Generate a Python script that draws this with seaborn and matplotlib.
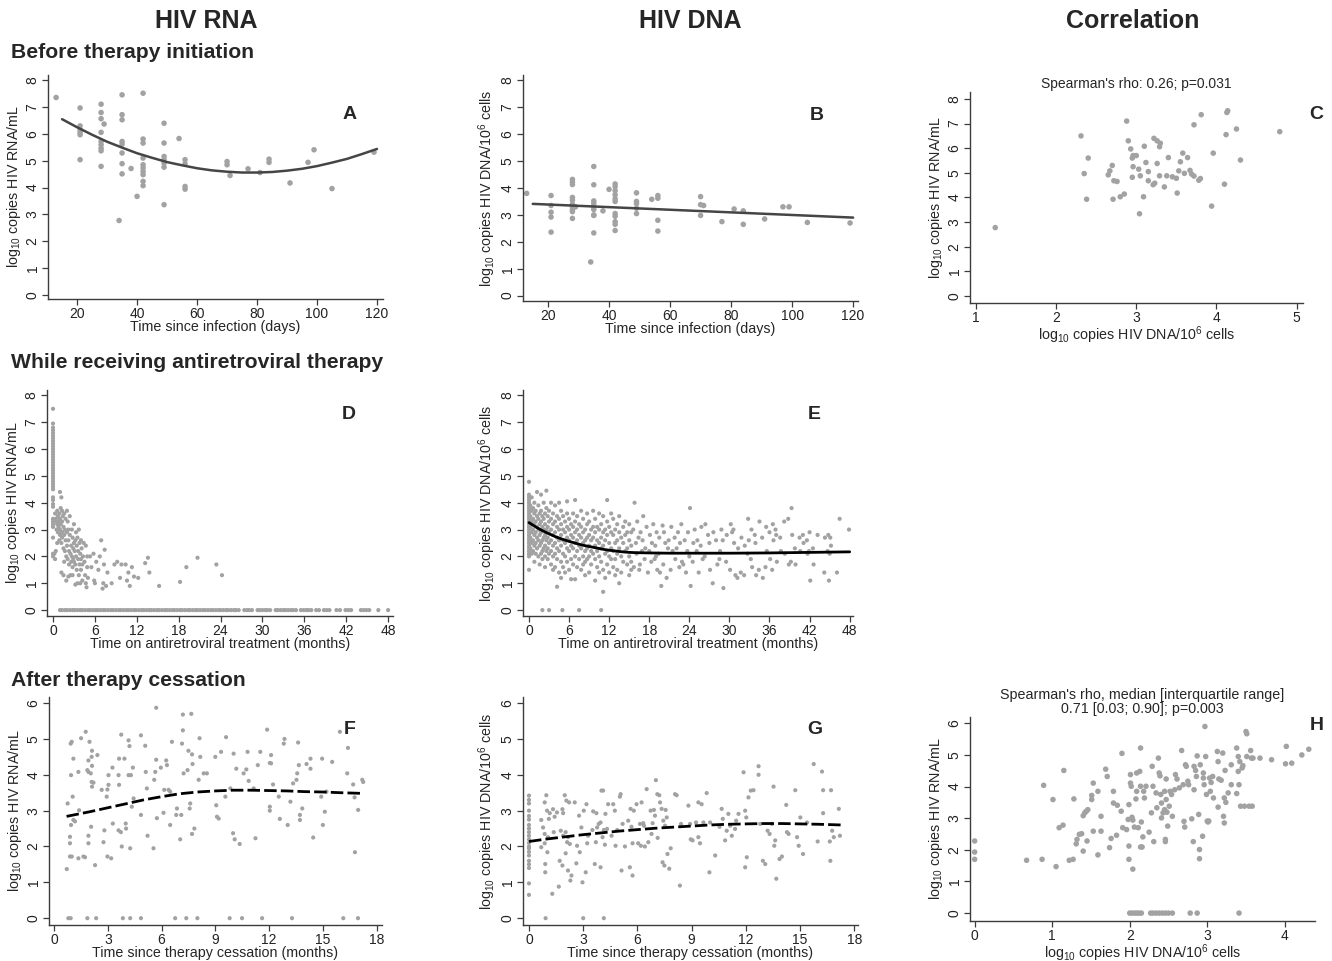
"""HIV RNA / HIV DNA before, during and after therapy (8 panels)."""

import matplotlib
matplotlib.use("Agg")
import matplotlib.pyplot as plt
import seaborn as sns

# ---- panel A: RNA before therapy (days, log10 RNA)
a_points = [
    (13, 7.36),
    (21, 6.97), (21, 6.3), (21, 6.16), (21, 6.06), (21, 5.97), (21, 5.04),
    (28, 7.11), (28, 6.8), (28, 6.57), (28, 6.06), (28, 5.72), (28, 5.6),
    (28, 5.47), (28, 5.37), (28, 4.79), (29, 6.37), (34, 2.77),
    (35, 7.46), (35, 6.72), (35, 6.53), (35, 5.72), (35, 5.62), (35, 5.29),
    (35, 4.89), (35, 4.51), (38, 4.71), (40, 3.67),
    (42, 7.52), (42, 5.81), (42, 5.66), (42, 5.1), (42, 4.85), (42, 4.73),
    (42, 4.6), (42, 4.48), (42, 4.23), (42, 4.07),
    (49, 6.4), (49, 5.66), (49, 5.16), (49, 5.04), (49, 4.91), (49, 4.76), (49, 3.36),
    (54, 5.83), (56, 5.04), (56, 4.89), (56, 4.04), (56, 3.94),
    (70, 4.97), (70, 4.85), (71, 4.45), (77, 4.7), (81, 4.56), (84, 5.06), (84, 4.94),
    (91, 4.17), (97, 4.94), (99, 5.41), (105, 3.96), (119, 5.32),
]
a_fit_day = [15, 20, 25, 30, 35, 40, 45, 50, 55, 60, 65, 70, 75, 80, 85, 90,
             95, 100, 105, 110, 115, 120]
a_fit = [6.55, 6.25, 5.97, 5.71, 5.49, 5.28, 5.11, 4.95, 4.83, 4.72, 4.64, 4.59,
         4.56, 4.56, 4.58, 4.63, 4.70, 4.80, 4.93, 5.07, 5.25, 5.44]

# ---- panel B: DNA before therapy
b_points = [
    (13, 3.8),
    (21, 3.72), (21, 3.35), (21, 3.1), (21, 2.92), (21, 2.36),
    (28, 4.32), (28, 4.22), (28, 4.13), (28, 3.65), (28, 3.55), (28, 3.4),
    (28, 3.3), (28, 3.2), (28, 3.12), (28, 2.87), (29, 3.3), (34, 1.25),
    (35, 4.8), (35, 4.12), (35, 3.52), (35, 3.42), (35, 3.3), (35, 3.2),
    (35, 3.0), (35, 2.98), (35, 2.33), (38, 3.15), (40, 3.95),
    (42, 4.15), (42, 4.05), (42, 3.9), (42, 3.75), (42, 3.6), (42, 3.5),
    (42, 3.05), (42, 2.95), (42, 2.75), (42, 2.65), (42, 2.42),
    (49, 3.82), (49, 3.5), (49, 3.42), (49, 3.25), (49, 3.05),
    (54, 3.58), (56, 3.72), (56, 3.62), (56, 2.8), (56, 2.4),
    (70, 3.68), (70, 3.38), (70, 2.98), (71, 3.35), (77, 2.75), (81, 3.22),
    (84, 3.15), (84, 2.65), (91, 2.85), (97, 3.3), (99, 3.3), (105, 2.72), (119, 2.7),
]
b_fit_day = [15, 120]
b_fit = [3.41, 2.9]

# ---- panel C: DNA vs RNA before therapy
c_points = [
    (1.24, 2.78), (2.31, 6.5), (2.35, 4.97), (2.4, 5.6), (2.38, 3.93),
    (2.7, 5.3), (2.65, 4.92), (2.67, 5.08), (2.72, 4.68), (2.76, 4.65),
    (2.71, 3.93), (2.8, 4.03), (2.85, 4.14), (2.88, 7.1), (2.9, 6.3),
    (2.93, 5.97), (2.95, 5.6), (2.96, 5.7), (2.96, 5.25), (2.95, 4.82),
    (3.0, 5.7), (3.03, 5.15), (3.05, 4.88), (3.04, 3.34), (3.09, 4.03),
    (3.1, 6.08), (3.12, 5.42), (3.15, 5.05), (3.15, 4.68), (3.21, 4.52),
    (3.22, 6.4), (3.26, 6.3), (3.26, 5.38), (3.23, 4.58), (3.29, 6.06),
    (3.3, 6.2), (3.29, 4.88), (3.35, 4.43), (3.38, 4.88), (3.4, 5.62),
    (3.45, 4.84), (3.5, 4.78), (3.51, 4.18), (3.53, 5.08), (3.55, 5.45),
    (3.58, 5.8), (3.6, 4.98), (3.64, 5.62), (3.67, 5.1), (3.69, 4.95),
    (3.72, 4.87), (3.72, 6.95), (3.78, 4.7), (3.8, 4.77), (3.81, 7.36),
    (3.94, 3.65), (3.96, 5.8), (4.1, 4.54), (4.12, 6.55), (4.13, 7.45),
    (4.14, 7.52), (4.25, 6.78), (4.3, 5.52), (4.79, 6.67),
]

# ---- panel D: RNA on treatment (months)
d_points = (
    [(0, v) for v in (7.5, 6.95, 6.8, 6.7, 6.6, 6.5, 6.4, 6.3, 6.2, 6.1, 6.0,
                      5.9, 5.8, 5.7, 5.6, 5.5, 5.4, 5.3, 5.2, 5.1, 5.0, 4.9,
                      4.8, 4.7, 4.6, 4.5, 4.2, 4.1, 3.95, 3.85, 3.4, 3.3, 3.2,
                      3.1, 2.7, 2.1, 2.0)]
    + [(0.3, 3.6), (0.4, 3.4), (0.5, 3.3), (0.5, 3.0), (0.6, 3.7), (0.6, 3.2),
       (0.7, 3.5), (0.7, 2.9), (0.8, 3.3), (0.8, 3.1), (0.9, 3.6), (0.9, 2.6),
       (1.0, 4.4), (1.0, 3.4), (1.0, 3.0), (1.0, 2.8), (0.4, 2.2), (0.3, 1.9),
       (0.6, 2.5), (0.2, 2.1),
       (1.1, 3.8), (1.1, 3.2), (1.2, 2.9), (1.2, 2.5), (1.2, 4.2), (1.3, 3.7),
       (1.3, 3.3), (1.3, 2.7), (1.4, 3.5), (1.4, 2.9), (1.5, 3.1), (1.5, 2.3),
       (1.5, 1.3), (1.6, 3.6), (1.6, 2.8), (1.7, 3.0), (1.7, 2.2), (1.8, 2.6),
       (1.8, 3.4), (1.9, 2.0), (1.9, 1.1), (2.0, 3.7), (2.0, 2.9), (2.0, 2.4),
       (1.6, 1.8), (1.2, 1.4),
       (2.1, 3.3), (2.1, 1.9), (2.2, 2.6), (2.2, 3.0), (2.3, 2.2), (2.3, 1.7),
       (2.4, 2.8), (2.4, 3.5), (2.5, 2.1), (2.5, 1.3), (2.6, 2.4), (2.6, 1.8),
       (2.7, 3.0), (2.7, 2.0), (2.8, 2.7), (2.8, 1.6), (2.9, 2.3), (2.9, 1.9),
       (3.0, 3.2), (3.0, 2.5), (3.0, 1.8), (2.2, 1.25), (2.8, 1.3),
       (3.1, 2.2), (3.2, 2.6), (3.2, 1.7), (3.3, 2.9), (3.3, 2.0), (3.4, 2.4),
       (3.4, 1.5), (3.5, 1.0), (3.5, 2.7), (3.6, 1.9), (3.6, 2.2), (3.7, 3.0),
       (3.7, 1.3), (3.8, 2.5), (3.8, 1.7), (3.9, 2.1), (3.9, 1.0), (4.0, 2.6),
       (4.0, 1.9), (4.0, 1.5), (3.2, 0.95),
       (4.1, 2.3), (4.2, 1.7), (4.2, 1.1), (4.3, 2.0), (4.4, 2.5), (4.5, 1.8),
       (4.6, 1.3), (4.7, 2.4), (4.7, 1.0), (4.8, 0.85), (4.9, 2.0), (4.9, 1.6),
       (5.0, 1.2),
       (5.3, 2.0), (5.5, 1.6), (5.8, 2.1), (5.9, 1.1), (6.0, 1.0), (6.2, 1.8),
       (6.5, 1.5), (6.7, 2.0), (6.9, 2.6), (7.1, 0.8), (7.2, 1.0), (7.3, 1.7),
       (7.4, 2.25), (7.6, 0.9), (7.8, 1.4),
       (8.4, 1.0), (8.8, 1.7), (9.2, 1.8), (9.6, 1.2), (9.8, 1.7), (10.4, 1.7),
       (10.6, 1.1), (10.8, 1.4), (11.0, 0.9), (11.3, 1.6), (11.6, 1.25),
       (12.2, 1.2), (13.2, 1.75), (13.6, 1.95), (13.8, 1.4), (15.2, 0.9),
       (18.2, 1.05), (19.1, 1.6), (20.7, 1.95), (23.4, 1.7), (24.2, 1.3)]
)
d_zero_month = [
    1.0, 1.3, 1.7, 2.0, 2.4, 2.8, 3.1, 3.5, 3.9, 4.2, 4.6, 5.0, 5.3, 5.7, 6.1,
    6.4, 6.8, 7.2, 7.5, 7.9, 8.3, 8.6, 9.0, 9.4, 9.7, 10.1, 10.5, 10.8, 11.2,
    11.6, 11.9, 12.3, 12.7, 13.0, 13.4, 13.8, 14.1, 14.5, 14.9, 15.2, 15.6,
    16.0, 16.3, 16.7, 17.1, 17.4, 17.8, 18.2, 18.5, 18.9, 19.3, 19.6, 20.0,
    20.4, 20.7, 21.1, 21.5, 21.8, 22.2, 22.6, 22.9, 23.3, 23.7, 24.0, 24.4,
    24.8, 25.1, 25.5, 25.9, 26.2, 26.6, 27.4, 27.8, 28.1, 28.5, 29.3, 29.6,
    30.0, 30.4, 30.7, 31.1, 31.9, 32.2, 32.6, 33.0, 33.3, 33.7, 34.1, 34.4,
    34.8, 35.5, 35.9, 36.3, 36.6, 37.0, 37.7, 38.1, 38.8, 39.2, 39.6, 40.6,
    41.1, 41.9, 42.3, 42.7, 44.1, 44.5, 44.9, 45.3, 46.6, 48.0,
]

# ---- panel E: DNA on treatment (months)
e_points = (
    [(0, v) for v in (4.78, 4.3, 4.2, 4.1, 4.0, 3.9, 3.8, 3.7, 3.6, 3.5, 3.4,
                      3.3, 3.2, 3.1, 3.0, 2.9, 2.8, 2.7, 2.6, 2.5, 2.4, 2.3,
                      2.2, 2.1, 2.0, 1.5)]
    + [(0.2, v) for v in (3.9, 3.5, 3.1, 2.7, 2.3)]
    + [(0.4, v) for v in (4.2, 3.7, 3.3, 2.9, 2.5, 2.1)]
    + [(0.6, v) for v in (3.8, 3.4, 3.0, 2.6, 2.2)]
    + [(0.8, v) for v in (4.0, 3.6, 3.2, 2.8, 2.4, 1.8)]
    + [(1.0, v) for v in (3.7, 3.3, 2.9, 2.5, 2.1)]
    + [(1.2, v) for v in (4.4, 3.5, 3.1, 2.7, 2.3)]
    + [(1.4, v) for v in (3.9, 3.4, 3.0, 2.6, 2.0)]
    + [(1.6, v) for v in (3.6, 3.2, 2.8, 2.4, 1.7)]
    + [(1.8, v) for v in (4.3, 3.7, 3.3, 2.9, 2.5, 2.1)]
    + [(2.0, v) for v in (3.5, 3.1, 2.6, 2.2, 1.9, 0)]
    + [(2.2, v) for v in (4.0, 3.4, 3.0, 2.7, 2.3)]
    + [(2.4, v) for v in (3.6, 3.2, 2.8, 2.4, 2.0, 1.6)]
    + [(2.6, v) for v in (4.45, 3.8, 3.0, 2.6, 2.2)]
    + [(2.8, v) for v in (3.5, 3.1, 2.7, 2.3, 1.9)]
    + [(3.0, v) for v in (3.7, 3.3, 2.9, 2.5, 2.1, 0)]
    + [(3.3, v) for v in (4.0, 3.4, 3.0, 2.6, 2.2, 1.7)]
    + [(3.6, v) for v in (3.6, 3.2, 2.8, 2.4, 2.0, 1.5)]
    + [(3.9, v) for v in (3.9, 3.3, 2.9, 2.5, 2.1, 1.6)]
    + [(4.2, v) for v in (3.5, 3.1, 2.7, 2.3, 1.9, 0.87)]
    + [(4.5, v) for v in (4.0, 3.4, 3.0, 2.6, 2.2, 1.4)]
    + [(4.8, v) for v in (3.7, 3.2, 2.8, 2.4, 1.8, 1.2)]
    + [(5.0, 0)]
    + [(5.1, v) for v in (3.5, 3.0, 2.6, 2.1, 1.6)]
    + [(5.4, v) for v in (3.3, 2.9, 2.5, 2.0, 1.4)]
    + [(5.7, v) for v in (4.05, 3.6, 3.1, 2.7, 2.3, 1.8)]
    + [(6.0, v) for v in (3.4, 3.0, 2.6, 2.2, 1.5)]
    + [(6.3, v) for v in (3.2, 2.8, 2.4, 1.9, 1.15)]
    + [(6.6, v) for v in (3.6, 3.1, 2.7, 2.3, 1.7)]
    + [(6.9, v) for v in (4.1, 3.3, 2.9, 2.5, 2.0, 1.15)]
    + [(7.2, v) for v in (3.5, 3.0, 2.6, 2.2, 1.6)]
    + [(7.5, v) for v in (3.2, 2.8, 2.4, 1.9, 0)]
    + [(7.8, v) for v in (3.7, 3.1, 2.7, 2.3, 1.5)]
    + [(8.1, v) for v in (3.4, 2.9, 2.5, 2.0, 1.7)]
    + [(8.4, v) for v in (3.0, 2.6, 2.2, 1.8, 1.3)]
    + [(8.7, v) for v in (3.6, 3.2, 2.7, 2.3, 1.9)]
    + [(9.0, v) for v in (3.3, 2.8, 2.4, 2.0, 1.4)]
    + [(9.3, v) for v in (3.0, 2.6, 2.2, 1.7)]
    + [(9.6, v) for v in (3.7, 3.1, 2.7, 2.1)]
    + [(9.9, v) for v in (3.4, 2.9, 2.4, 1.9, 1.1)]
    + [(10.2, v) for v in (3.1, 2.6, 2.2, 1.6)]
    + [(10.5, v) for v in (3.6, 3.0, 2.5, 2.0, 1.4)]
    + [(10.8, v) for v in (3.2, 2.7, 2.3, 1.8, 0)]
    + [(11.1, v) for v in (3.5, 2.9, 2.4, 1.5, 0.68)]
    + [(11.4, v) for v in (3.0, 2.6, 2.1, 1.2)]
    + [(11.7, v) for v in (4.1, 3.3, 2.8, 2.2, 1.7)]
    + [(12.0, v) for v in (3.1, 2.5, 2.0, 1.4)]
    + [(12.3, v) for v in (3.6, 2.9, 2.3, 1.9)]
    + [(12.6, v) for v in (3.4, 2.8, 2.2, 1.6)]
    + [(12.9, v) for v in (3.0, 2.5, 1.9, 1.3)]
    + [(13.2, v) for v in (3.2, 2.6, 2.1, 1.5)]
    + [(13.5, v) for v in (3.5, 2.9, 2.3, 1.0)]
    + [(13.8, v) for v in (2.7, 2.0, 1.4)]
    + [(14.1, v) for v in (3.1, 2.5, 1.8)]
    + [(14.4, v) for v in (3.3, 2.8, 2.2)]
    + [(14.7, v) for v in (2.9, 2.3, 1.7)]
    + [(15.0, v) for v in (3.2, 2.6, 2.0, 1.3)]
    + [(15.3, v) for v in (2.9, 2.4, 1.8, 1.5)]
    + [(15.8, 4.0), (15.6, 3.0), (16.0, 2.5), (15.7, 1.6),
       (16.2, 3.3), (16.4, 2.7), (16.1, 2.1), (16.5, 1.5),
       (16.7, 2.9), (16.9, 2.2), (16.6, 1.7), (17.1, 3.5), (17.0, 2.6),
       (17.3, 1.9), (17.6, 3.1), (17.4, 2.3), (17.8, 1.4), (18.1, 2.8),
       (18.0, 2.2), (18.3, 1.8), (18.6, 3.2), (18.4, 2.5), (18.8, 1.9),
       (19.1, 2.9), (18.9, 2.4), (19.2, 1.5), (19.0, 2.0), (19.5, 2.7),
       (19.4, 2.1), (19.6, 1.4), (19.8, 0.9), (20.0, 3.15), (20.2, 2.9),
       (20.4, 2.5), (20.1, 1.7), (20.8, 2.3), (20.6, 1.2), (20.9, 2.6),
       (21.3, 3.1), (21.5, 2.2), (21.2, 1.5), (21.8, 2.7), (21.9, 1.9),
       (22.3, 2.9), (22.1, 2.3), (22.5, 1.6), (22.8, 3.2), (22.6, 2.5),
       (22.9, 1.8), (23.3, 2.6), (23.1, 1.7), (23.5, 1.4), (23.8, 2.9),
       (23.7, 2.2), (24.1, 3.8), (24.2, 0.9), (24.0, 2.0), (24.6, 2.5),
       (24.5, 1.8), (24.8, 3.0), (25.2, 2.6), (25.1, 2.2), (25.4, 1.4),
       (25.8, 3.1), (25.7, 2.4), (26.0, 1.9), (26.4, 3.2), (26.3, 2.0),
       (27.0, 2.5), (26.8, 2.8), (27.1, 1.5), (27.5, 1.0), (27.6, 2.9),
       (28.0, 2.6), (28.2, 1.7), (28.6, 2.2), (28.5, 1.9), (28.8, 3.0),
       (29.1, 0.82), (29.0, 2.6), (29.6, 2.8), (29.5, 1.8), (30.2, 3.2),
       (30.4, 2.9), (30.1, 1.5), (30.7, 2.5), (30.9, 1.3), (30.6, 3.0),
       (31.3, 2.3), (31.2, 1.2), (31.8, 2.7), (31.7, 1.4), (32.3, 2.4),
       (32.2, 1.3), (32.8, 3.4), (32.9, 2.6), (32.7, 2.1), (33.3, 3.0),
       (33.2, 1.9), (33.4, 1.6), (33.9, 2.5), (34.0, 1.3), (33.8, 2.8),
       (34.5, 3.3), (34.4, 1.5), (34.9, 2.7), (35.0, 1.2), (35.5, 3.1),
       (35.6, 2.2), (35.4, 1.6), (36.0, 2.9), (36.1, 1.9), (36.5, 3.2),
       (36.6, 2.6), (36.4, 1.5), (37.0, 2.8), (37.1, 1.8), (36.9, 3.0),
       (37.6, 2.7), (37.7, 2.2), (38.2, 3.3), (38.3, 2.1), (38.8, 3.4),
       (38.9, 1.7), (39.3, 3.8), (39.4, 2.8), (39.2, 1.8), (39.8, 2.3),
       (39.9, 1.7), (40.5, 2.7), (40.6, 2.2), (41.0, 2.8), (41.1, 2.5),
       (41.6, 2.6), (41.7, 2.1), (42.0, 2.9), (42.1, 1.1), (41.9, 2.2),
       (42.5, 2.3), (42.6, 1.7), (43.2, 2.8), (44.2, 1.4), (44.3, 2.7),
       (44.8, 2.8), (44.9, 1.1), (44.7, 2.2), (45.1, 2.7), (45.2, 2.4),
       (45.0, 2.1), (46.1, 1.4), (46.5, 3.4), (47.9, 3.0)]
)
e_fit_month = [0, 1, 2, 3, 4, 5, 6, 7, 8, 9, 10, 11, 12, 13, 14, 15, 16, 18,
               21, 24, 30, 36, 42, 48]
e_fit = [3.26, 3.1, 2.96, 2.84, 2.73, 2.64, 2.56, 2.49, 2.42, 2.37, 2.32, 2.27,
         2.23, 2.2, 2.17, 2.15, 2.14, 2.13, 2.12, 2.12, 2.12, 2.13, 2.15, 2.17]

# ---- panel F: RNA after cessation (months)
f_points = [
    (0.71, 1.37), (0.76, 3.2), (0.8, 0), (0.93, 0), (0.89, 2.27), (0.89, 2.09),
    (0.89, 1.72), (0.99, 1.72), (0.95, 2.6), (0.95, 3.99), (0.99, 4.92),
    (0.93, 4.87), (1.04, 3.39), (1.08, 2.74), (1.17, 2.7), (1.08, 4.45),
    (1.36, 4.08), (1.36, 1.67), (1.4, 3.01), (1.51, 5.02), (1.64, 1.72),
    (1.73, 1.7), (1.77, 5.2), (1.86, 0), (1.86, 4.13), (1.92, 4.08),
    (1.92, 4.4), (1.98, 4.92), (1.92, 2.3), (1.92, 2.09), (2.05, 4.04),
    (2.1, 4.5), (2.12, 4.67), (2.12, 4.25), (2.07, 2.55), (2.12, 3.67),
    (2.1, 3.8), (2.2, 3.78), (2.29, 1.48), (2.35, 0), (2.42, 4.55), (2.66, 3.58),
    (2.76, 2.12), (2.81, 2.45), (2.94, 3.39), (2.98, 3.59), (2.98, 1.72),
    (3.04, 3.72), (3.04, 3.99), (3.19, 1.67), (3.26, 4.2), (3.28, 2.64),
    (3.6, 3.99), (3.6, 2.45), (3.63, 3.72), (3.63, 4.45), (3.73, 2.4),
    (3.75, 5.12), (3.78, 2.0), (3.84, 0), (3.93, 4.45), (4.0, 2.64),
    (4.02, 2.5), (4.16, 4.96), (4.16, 3.99), (4.21, 4.8), (4.25, 1.95),
    (4.25, 0), (4.29, 3.99), (4.34, 3.11), (4.4, 4.2), (4.44, 3.34),
    (4.85, 0), (4.85, 2.88), (4.85, 5.1), (5.09, 4.81), (5.12, 4.08),
    (5.18, 3.62), (5.22, 2.3), (5.55, 1.95), (5.59, 3.86), (5.65, 4.08),
    (5.7, 4.42), (5.7, 5.87), (5.74, 2.79), (5.96, 4.2), (6.11, 2.94),
    (6.15, 3.58), (6.26, 4.4), (6.3, 4.27), (6.39, 3.58), (6.48, 3.53),
    (6.48, 2.6), (6.58, 4.92), (6.76, 0), (6.82, 2.88), (6.86, 3.06),
    (7.04, 2.2), (7.1, 2.88), (7.14, 4.87), (7.19, 5.24), (7.19, 5.68),
    (7.23, 4.04), (7.38, 0), (7.45, 4.13), (7.5, 4.67), (7.57, 3.06),
    (7.6, 3.2), (7.66, 5.7), (7.7, 4.57), (7.7, 2.35), (7.73, 4.3),
    (7.83, 2.5), (8.0, 0), (8.07, 3.86), (8.12, 5.02), (8.16, 4.5),
    (8.35, 4.04), (8.53, 4.04), (9.0, 4.5), (9.05, 3.15), (9.09, 2.83),
    (9.19, 2.78), (9.32, 4.64), (9.56, 3.39), (9.6, 5.05), (9.8, 0),
    (9.84, 3.62), (9.99, 2.37), (10.02, 4.59), (10.08, 2.2), (10.17, 4.17),
    (10.36, 2.07), (10.49, 0), (10.58, 4.04), (10.73, 4.15), (10.8, 4.64),
    (10.86, 3.83), (11.14, 3.62), (11.24, 2.23), (11.37, 4.27), (11.51, 4.64),
    (11.61, 0), (11.89, 5.26), (12.04, 3.11), (12.04, 3.0), (12.04, 4.33),
    (12.11, 4.55), (12.11, 4.32), (12.22, 3.73), (12.54, 3.39), (12.6, 2.77),
    (12.82, 4.87), (12.86, 5.0), (13.04, 2.6), (13.19, 3.25), (13.28, 0),
    (13.34, 3.76), (13.53, 3.86), (13.57, 4.04), (13.62, 4.9), (13.66, 4.27),
    (13.72, 2.88), (13.72, 2.74), (13.85, 3.06), (14.09, 4.3), (14.31, 4.17),
    (14.31, 4.45), (14.46, 2.25), (14.91, 3.39), (14.96, 4.45), (15.0, 2.6),
    (15.11, 2.97), (15.2, 3.53), (15.52, 4.36), (15.95, 5.2), (16.14, 0),
    (16.36, 4.04), (16.4, 4.75), (16.69, 3.73), (16.77, 3.37), (16.79, 1.84),
    (16.96, 0), (16.97, 3.02), (17.2, 3.86), (17.25, 3.8),
]
f_fit_month = [0.7, 2, 3, 4, 5, 6, 7, 8, 9, 10, 11, 12, 13, 14, 15, 16, 17.3]
f_fit = [2.84, 2.97, 3.08, 3.19, 3.3, 3.39, 3.47, 3.52, 3.55, 3.57, 3.57, 3.56,
         3.55, 3.53, 3.52, 3.5, 3.48]

# ---- panel G: DNA after cessation (months)
g_points = (
    [(0, v) for v in (3.42, 3.3, 3.2, 3.0, 2.85, 2.75, 2.6, 2.5, 2.4, 2.3, 2.2,
                      2.1, 2.0, 1.95, 1.85, 1.75, 1.6, 1.5, 1.4, 0.97, 0.65)]
    + [(0.68, 1.98), (0.68, 2.74), (0.78, 2.53), (0.87, 3.23), (0.87, 2.35),
       (0.87, 2.09), (0.9, 1.51), (0.9, 1.28), (0.92, 0), (0.96, 3.43),
       (1.0, 3.0), (1.02, 1.84), (1.05, 2.26), (1.1, 2.77), (1.15, 2.93),
       (1.29, 0.68), (1.33, 3.04), (1.37, 2.4), (1.42, 2.83), (1.55, 2.95),
       (1.65, 0.88), (1.7, 1.6), (1.76, 2.44), (1.85, 3.04), (1.85, 1.47),
       (1.89, 2.93), (1.89, 2.3), (1.98, 3.43), (2.03, 1.81), (2.03, 2.4),
       (2.07, 3.28), (2.11, 2.12), (2.16, 2.26), (2.16, 1.33), (2.22, 3.23),
       (2.26, 2.07), (2.29, 1.05), (2.35, 1.19), (2.53, 3.23), (2.62, 1.53),
       (2.66, 2.02), (2.77, 2.86), (2.81, 1.84), (2.9, 2.53), (2.96, 1.0),
       (3.0, 0), (3.03, 3.0), (3.14, 1.28), (3.18, 3.18), (3.22, 2.09),
       (3.27, 2.3), (3.51, 2.46), (3.55, 2.98), (3.64, 1.51), (3.7, 2.12),
       (3.73, 2.93), (3.77, 2.53), (3.86, 2.63), (3.96, 2.67), (3.96, 1.42),
       (4.01, 3.56), (4.07, 2.26), (4.1, 3.56), (4.14, 0), (4.14, 2.46),
       (4.2, 2.05), (4.23, 2.91), (4.32, 2.49), (4.38, 3.18), (4.57, 2.3),
       (4.66, 3.18), (4.75, 3.0), (4.79, 2.02), (4.88, 2.46), (5.03, 3.39),
       (5.07, 3.46), (5.12, 1.33), (5.18, 2.63), (5.31, 2.0), (5.49, 2.72),
       (5.58, 1.42), (5.62, 3.05), (5.67, 2.55), (5.73, 2.09), (5.73, 1.19),
       (5.8, 3.0), (5.95, 3.18), (6.04, 2.09), (6.14, 2.63), (6.19, 2.02),
       (6.23, 3.23), (6.32, 2.65), (6.36, 2.58), (6.41, 2.0), (6.51, 3.6),
       (6.6, 2.12), (6.73, 3.0), (6.78, 2.35), (6.84, 2.65), (6.91, 3.02),
       (6.97, 2.86), (7.02, 3.85), (7.1, 3.46), (7.12, 2.24), (7.21, 3.43),
       (7.25, 3.23), (7.34, 3.05), (7.39, 1.56), (7.43, 2.72), (7.49, 1.47),
       (7.53, 2.58), (7.56, 3.02), (7.62, 2.81), (7.66, 1.79), (7.76, 1.38),
       (7.84, 1.95), (8.08, 3.46), (8.17, 3.43), (8.35, 0.91), (8.41, 2.63),
       (8.82, 3.14), (8.91, 2.63), (8.95, 2.2), (9.05, 2.17), (9.24, 2.67),
       (9.37, 3.23), (9.37, 2.26), (9.46, 2.09), (9.55, 3.18), (9.65, 2.67),
       (9.83, 3.49), (9.98, 1.28), (10.02, 2.67), (10.3, 1.75), (10.54, 2.55),
       (10.66, 3.05), (10.72, 2.77), (10.85, 2.17), (10.94, 2.44), (11.03, 2.91),
       (11.13, 2.58), (11.22, 2.3), (11.4, 2.49), (11.46, 2.72), (11.59, 2.91),
       (11.87, 4.07), (11.96, 1.42), (11.96, 3.0), (12.02, 2.81), (12.05, 1.7),
       (12.14, 3.37), (12.27, 3.56), (12.42, 3.57), (12.7, 4.24), (12.7, 4.0),
       (12.79, 2.63), (12.94, 1.6), (13.07, 1.51), (13.2, 2.44), (13.31, 2.35),
       (13.44, 2.63), (13.53, 3.67), (13.57, 2.02), (13.62, 2.17), (13.68, 1.1),
       (13.86, 1.65), (13.99, 1.72), (14.23, 3.16), (14.27, 2.4), (14.36, 2.35),
       (14.73, 3.57), (14.83, 2.26), (14.92, 2.02), (15.01, 2.81), (15.16, 1.79),
       (15.38, 2.67), (15.75, 4.3), (15.97, 2.14), (16.21, 4.09), (16.27, 3.57),
       (16.27, 2.93), (16.64, 2.14), (16.67, 1.6), (16.71, 3.57), (16.77, 2.44),
       (16.86, 2.26), (17.14, 3.05), (17.2, 2.3)]
)
g_fit_month = [0, 1, 2, 3, 4, 5, 6, 7, 8, 9, 10, 11, 12, 13, 14, 15, 16, 17.3]
g_fit = [2.14, 2.21, 2.27, 2.33, 2.38, 2.43, 2.47, 2.51, 2.54, 2.57, 2.6, 2.62,
         2.63, 2.64, 2.64, 2.63, 2.62, 2.6]

# ---- panel H: DNA vs RNA after cessation
h_points = [
    (0, 2.28), (0, 1.93), (0, 1.7), (0.67, 1.67), (0.87, 1.7), (0.89, 4.04),
    (1.01, 3.59), (1.05, 1.47), (1.09, 2.7), (1.14, 2.78), (1.15, 4.51),
    (1.22, 1.67), (1.27, 1.7), (1.28, 3.61), (1.31, 2.19), (1.32, 2.33),
    (1.35, 2.49), (1.38, 2.51), (1.4, 1.96), (1.4, 3.08), (1.42, 3.17),
    (1.44, 3.22), (1.45, 2.28), (1.46, 3.27), (1.51, 3.72), (1.51, 3.59),
    (1.53, 2.59), (1.53, 4.11), (1.59, 1.84), (1.59, 3.85), (1.63, 2.59),
    (1.63, 3.06), (1.69, 4.55), (1.71, 4.32), (1.74, 2.07), (1.76, 2.36),
    (1.79, 3.85), (1.79, 3.48), (1.83, 2.46), (1.84, 3.41), (1.9, 5.05),
    (1.89, 3.22), (1.91, 2.7), (1.96, 2.64), (1.98, 2.96), (1.99, 3.43),
    (1.99, 1.7), (1.99, 2.12), (2.01, 4.38), (2.01, 4.11), (2.02, 4.01),
    (2.03, 3.03), (2.04, 1.39), (2.04, 2.94), (2.06, 2.72), (2.08, 3.61),
    (2.09, 4.43), (2.09, 3.85), (2.11, 2.7), (2.13, 4.48), (2.14, 5.22),
    (2.14, 4.01), (2.14, 2.09), (2.15, 2.88), (2.16, 2.09), (2.17, 2.41),
    (2.18, 3.85), (2.19, 3.64), (2.21, 4.01), (2.25, 2.56), (2.28, 3.17),
    (2.29, 4.64), (2.3, 4.01), (2.31, 2.26), (2.34, 3.8), (2.35, 3.33),
    (2.37, 4.9), (2.38, 4.43), (2.39, 4.34), (2.4, 3.75), (2.41, 3.48),
    (2.41, 3.01), (2.43, 3.17), (2.45, 3.27), (2.45, 3.85), (2.46, 2.33),
    (2.46, 2.26), (2.47, 4.24), (2.47, 3.59), (2.48, 3.19), (2.49, 2.75),
    (2.51, 3.38), (2.52, 3.85), (2.54, 3.75), (2.55, 3.06), (2.58, 3.9),
    (2.59, 4.38), (2.61, 4.24), (2.64, 3.96), (2.67, 5.14), (2.69, 4.06),
    (2.7, 2.9), (2.71, 2.72), (2.72, 4.69), (2.73, 4.64), (2.75, 4.17),
    (2.76, 4.06), (2.8, 2.98), (2.82, 2.26), (2.83, 4.64), (2.83, 3.9),
    (2.85, 4.51), (2.86, 4.32), (2.87, 4.97), (2.89, 3.12), (2.9, 2.01),
    (2.9, 1.72), (2.91, 4.69), (2.94, 2.43), (2.95, 4.43), (2.95, 4.27),
    (2.96, 4.06), (2.97, 5.9), (2.98, 4.95), (2.99, 3.75), (3.0, 2.91),
    (3.01, 2.88), (3.02, 2.91), (3.03, 4.27), (3.04, 3.85), (3.05, 4.13),
    (3.07, 4.32), (3.08, 3.64), (3.13, 5.11), (3.14, 4.79), (3.14, 3.35),
    (3.15, 4.24), (3.18, 4.2), (3.2, 5.06), (3.21, 3.06), (3.22, 2.85),
    (3.22, 3.64), (3.23, 4.51), (3.24, 3.5), (3.27, 3.8), (3.31, 4.06),
    (3.31, 4.69), (3.38, 3.78), (3.38, 5.22), (3.4, 4.95), (3.4, 4.48),
    (3.41, 4.06), (3.42, 4.79), (3.43, 3.38), (3.45, 4.59), (3.46, 4.66),
    (3.48, 3.38), (3.5, 5.74), (3.51, 5.67), (3.51, 4.95), (3.54, 3.38),
    (3.56, 5.14), (3.57, 4.9), (3.58, 3.38), (3.59, 4.9), (3.68, 4.9),
    (3.83, 4.85), (4.02, 5.27), (4.01, 4.72), (4.09, 4.74), (4.22, 5.0),
    (4.31, 5.18),
    (2.0, 0), (2.03, 0), (2.06, 0), (2.09, 0), (2.12, 0), (2.15, 0),
    (2.27, 0), (2.3, 0), (2.34, 0), (2.38, 0), (2.42, 0), (2.46, 0),
    (2.5, 0), (2.55, 0), (2.78, 0), (2.87, 0), (3.41, 0),
]

RNA_LABEL = r"log$_{10}$ copies HIV RNA/mL"
DNA_LABEL = r"log$_{10}$ copies HIV DNA/10$^6$ cells"

W, H = 1332, 961
DOT = "#a2a2a2"
SPINE = "#3c3c3c"


def px_axes(fig, left, right, top, bottom):
    """Create axes from pixel edges of the reference picture."""
    return fig.add_axes([left / W, 1 - bottom / H, (right - left) / W, (bottom - top) / H])


def style(ax, xlim, ylim, xticks, yticks, xlabel, ylabel, letter, letter_xy, xpad=-1):
    ax.set_xlim(*xlim)
    ax.set_ylim(*ylim)
    ax.set_xticks(xticks)
    ax.set_yticks(yticks)
    ax.set_xlabel(xlabel, fontsize=10.3, labelpad=xpad)
    ax.set_ylabel(ylabel, fontsize=10.3, labelpad=2)
    for side in ("top", "right"):
        ax.spines[side].set_visible(False)
    for side in ("left", "bottom"):
        ax.spines[side].set_color(SPINE)
        ax.spines[side].set_linewidth(1.0)
    ax.tick_params(axis="both", labelsize=10, length=4, width=0.9,
                   color=SPINE, pad=2, labelcolor="#222222")
    ax.tick_params(axis="y", labelrotation=90)
    for lab in ax.get_yticklabels():
        lab.set_va("center")
    ax.text(letter_xy[0], letter_xy[1], letter, fontsize=14, fontweight="bold",
            ha="center", va="center")


def dots(ax, pts, size, color=DOT):
    xs = [p[0] for p in pts]
    ys = [p[1] for p in pts]
    sns.scatterplot(x=xs, y=ys, ax=ax, s=size, color=color, edgecolor="none",
                    linewidth=0, legend=False, zorder=2)


def curve(ax, xs, ys, color, lw, dashed=False):
    kw = {"linestyle": (0, (4.5, 1.5))} if dashed else {}
    sns.lineplot(x=xs, y=ys, ax=ax, color=color, linewidth=lw, estimator=None,
                 sort=False, zorder=3, **kw)


def main():
    sns.set_theme(style="ticks")
    plt.rcParams["font.family"] = ["Liberation Sans", "DejaVu Sans"]
    plt.rcParams["mathtext.fontset"] = "custom"
    plt.rcParams["mathtext.rm"] = "Liberation Sans"
    plt.rcParams["mathtext.it"] = "Liberation Sans:italic"
    plt.rcParams["mathtext.default"] = "regular"

    fig = plt.figure(figsize=(W / 100, H / 100), dpi=100)
    fig.patch.set_facecolor("white")

    # column and row headings
    for x, txt in ((206, "HIV RNA"), (690, "HIV DNA"), (1133, "Correlation")):
        fig.text(x / W, 1 - 21 / H, txt, fontsize=18, fontweight="bold",
                 ha="center", va="center")
    for y, txt in ((53, "Before therapy initiation"),
                   (362, "While receiving antiretroviral therapy"),
                   (680, "After therapy cessation")):
        fig.text(11 / W, 1 - y / H, txt, fontsize=15.2, fontweight="bold",
                 ha="left", va="center")

    day_ticks = [20, 40, 60, 80, 100, 120]
    art_ticks = [0, 6, 12, 18, 24, 30, 36, 42, 48]
    off_ticks = [0, 3, 6, 9, 12, 15, 18]

    # A
    ax = px_axes(fig, 48, 383, 75, 299)
    dots(ax, a_points, 16)
    curve(ax, a_fit_day, a_fit, "#454545", 1.8)
    style(ax, (10.3, 122), (-0.16, 8.2), day_ticks, range(9),
          "Time since infection (days)", RNA_LABEL, "A", (111, 6.72))

    # B
    ax = px_axes(fig, 523, 858, 75, 301)
    dots(ax, b_points, 16)
    curve(ax, b_fit_day, b_fit, "#454545", 1.8)
    style(ax, (11.8, 121.6), (-0.2, 8.2), day_ticks, range(9),
          "Time since infection (days)", DNA_LABEL, "B", (108, 6.7))

    # C
    ax = px_axes(fig, 970, 1303, 92, 303)
    dots(ax, c_points, 16)
    style(ax, (0.925, 5.08), (-0.28, 8.28), [1, 2, 3, 4, 5], range(9),
          r"log$_{10}$ copies HIV DNA/10$^6$ cells", RNA_LABEL, "C", (5.25, 7.36),
          xpad=-1)
    ax.set_title("Spearman's rho: 0.26; p=0.031", fontsize=10, pad=3)

    # D
    ax = px_axes(fig, 47, 393, 390, 616)
    dots(ax, d_points, 9)
    dots(ax, [(m, 0) for m in d_zero_month], 9)
    style(ax, (-0.86, 48.7), (-0.22, 8.2), art_ticks, range(9),
          "Time on antiretroviral treatment (months)", RNA_LABEL, "D", (42.4, 7.3))

    # E
    ax = px_axes(fig, 523, 853, 390, 616)
    dots(ax, e_points, 9)
    curve(ax, e_fit_month, e_fit, "black", 2.0)
    style(ax, (-0.9, 48.5), (-0.22, 8.2), art_ticks, range(9),
          "Time on antiretroviral treatment (months)", DNA_LABEL, "E", (42.7, 7.3))

    # F
    ax = px_axes(fig, 49, 382, 697, 925)
    dots(ax, f_points, 9)
    curve(ax, f_fit_month, f_fit, "black", 2.0, dashed=True)
    style(ax, (-0.28, 18.3), (-0.19, 6.17), off_ticks, range(7),
          "Time since therapy cessation (months)", RNA_LABEL, "F", (16.5, 5.26))

    # G
    ax = px_axes(fig, 523, 858, 697, 925)
    dots(ax, g_points, 9)
    curve(ax, g_fit_month, g_fit, "black", 2.0, dashed=True)
    style(ax, (-0.33, 18.2), (-0.19, 6.17), off_ticks, range(7),
          "Time since therapy cessation (months)", DNA_LABEL, "G", (15.8, 5.26))

    # H
    ax = px_axes(fig, 970, 1315, 717, 921)
    dots(ax, h_points, 16)
    style(ax, (-0.06, 4.39), (-0.25, 6.2), [0, 1, 2, 3, 4], range(7),
          r"log$_{10}$ copies HIV DNA/10$^6$ cells", RNA_LABEL, "H", (4.41, 5.93),
          xpad=-1)
    ax.set_title("Spearman's rho, median [interquartile range]\n"
                 "0.71 [0.03; 0.90]; p=0.003", fontsize=10.3, pad=3,
                 linespacing=1.0)

    fig.savefig("out.png", dpi=100, facecolor="white")
    plt.close(fig)


if __name__ == "__main__":
    main()
